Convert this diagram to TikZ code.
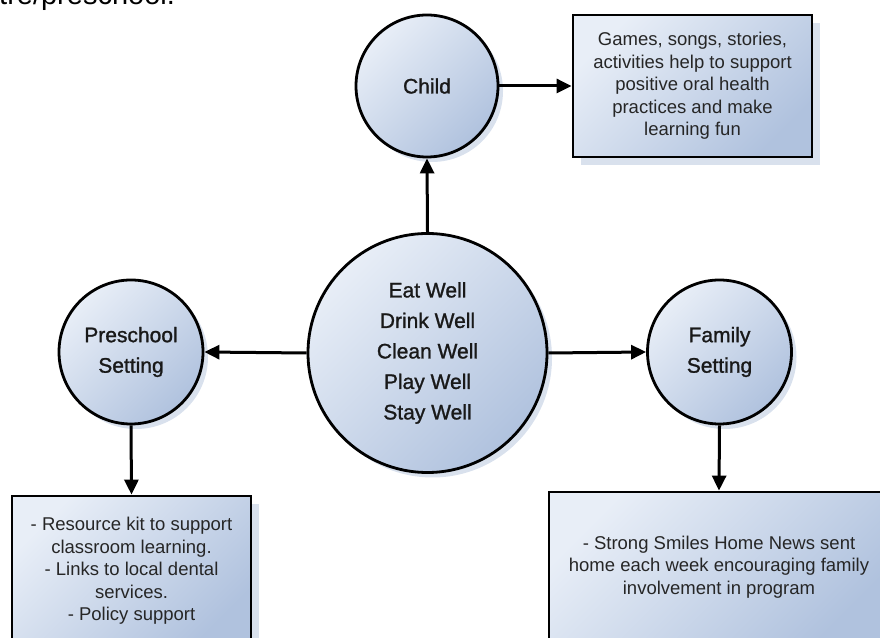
\documentclass[tikz,border=0pt]{standalone}
\usepackage{fontspec}
\setmainfont{Liberation Sans}
\newfontfamily\heavysans{Liberation Sans}[AutoFakeBold=1.2]
\usepackage{tikz}
\usetikzlibrary{arrows.meta}
\usetikzlibrary{shadows}
\definecolor{lightblue}{HTML}{E8EEF7}
\definecolor{darkblue}{HTML}{B0C2DE}
\definecolor{shadowblue}{HTML}{D9E1ED}
\definecolor{inkgrey}{HTML}{262626}

\begin{document}
\begin{tikzpicture}[x=1pt,y=1pt,
    setting/.style={circle, draw=black, line width=2.8pt, top color=lightblue, bottom color=darkblue, shading angle=45,
      drop shadow={shadow xshift=5pt, shadow yshift=-5pt, fill=shadowblue, opacity=1},
      align=center, text=black!90, font=\heavysans\bfseries\fontsize{21}{30.5}\selectfont},
    notebox/.style={rectangle, draw=black, line width=2.8pt, top color=lightblue, bottom color=darkblue, shading angle=45,
      drop shadow={shadow xshift=8pt, shadow yshift=-8pt, fill=shadowblue, opacity=1},
      align=center, text=inkgrey, font=\fontsize{18.5}{22.5}\selectfont},
    link/.style={line width=3pt, -{Triangle[length=15pt,width=14pt]}}]
          \useasboundingbox (0,0) rectangle (880,637);
          % text of the page above, cut off
          \node[anchor=base west, inner sep=0pt, font=\fontsize{29}{30}\selectfont] (pagetext) at (-1,632) {tre/preschool.};
          % Child
          \node[setting, minimum size=142pt] (child) at (427,551) {Child};
          \node[notebox, minimum width=239pt, minimum height=142pt] (childbox) at (692.5,551)
            {Games, songs, stories,\\activities help to support\\positive oral health\\practices and make\\learning fun};
          % Hub
          \node[setting, minimum size=239pt] (hub) at (427.5,284) {Eat Well\\Drink Well\\Clean Well\\Play Well\\Stay Well};
          % Preschool Setting
          \node[setting, minimum size=144pt] (preschool) at (131,285) {Preschool\\Setting};
          \node[notebox, minimum width=239pt, minimum height=150pt] (preschoolbox) at (131.5,66)
            {- Resource kit to support\\classroom learning.\\- Links to local dental\\services.\\- Policy support};
          % Family Setting
          \node[setting, minimum size=144pt] (family) at (719.5,285) {Family\\Setting};
          \node[notebox, minimum width=340pt, minimum height=150pt] (familybox) at (719,70)
            {- Strong Smiles Home News sent\\home each week encouraging family\\involvement in program};
          % line between hub and child
          \draw[link] (hub.north) -- (child.south);
          % line between child and its box
          \draw[link] (child.east) -- (childbox.west);
          % line between hub and preschool
          \draw[link] (hub.west) -- (preschool.east);
          % line between hub and family
          \draw[link] (hub.east) -- (family.west);
          % line between preschool and its box
          \draw[link] (preschool.south) -- (preschoolbox.north);
          % line between family and its box
          \draw[link] (family.south) -- (familybox.north);
        \end{tikzpicture}
\end{document}
